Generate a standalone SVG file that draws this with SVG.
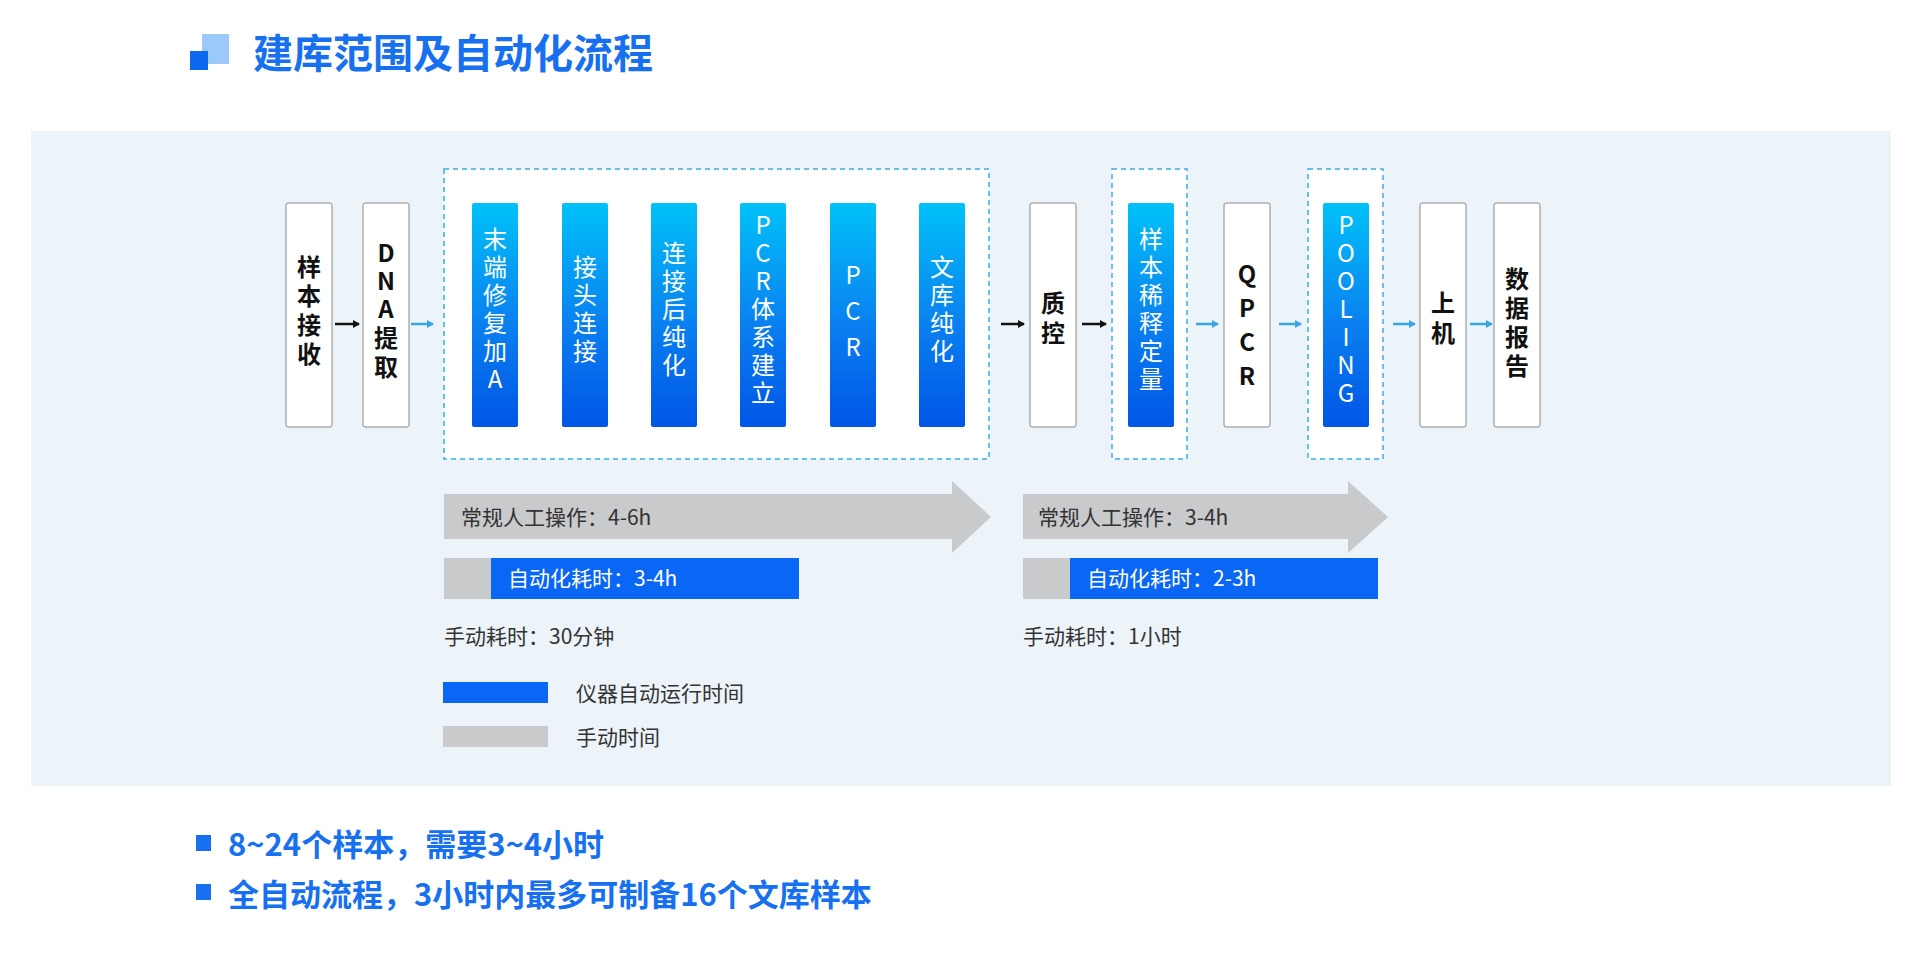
<svg xmlns="http://www.w3.org/2000/svg" width="1919" height="954" viewBox="0 0 1919 954">
<defs>
<linearGradient id="bg" x1="0" y1="0" x2="0" y2="1"><stop offset="0" stop-color="#00c2f8"/><stop offset="0.55" stop-color="#0a7ff0"/><stop offset="1" stop-color="#0055e6"/></linearGradient>
<marker id="ak" markerWidth="8" markerHeight="8" refX="6" refY="4" orient="auto" markerUnits="userSpaceOnUse"><path d="M0,0 L7,4 L0,8 Z" fill="#111"/></marker>
<marker id="ab" markerWidth="8" markerHeight="8" refX="6" refY="4" orient="auto" markerUnits="userSpaceOnUse"><path d="M0,0 L7,4 L0,8 Z" fill="#3aa6e0"/></marker>
</defs>
<style>
text{font-family:"Noto Sans CJK SC","Noto Sans",sans-serif}
.wb{fill:#fff;stroke:#888;stroke-width:1}
.bb{fill:url(#bg)}
.dash{fill:#fff;stroke:#3aaee6;stroke-width:1.5;stroke-dasharray:5 4}
.wt{font-size:24px;font-weight:bold;fill:#111;text-anchor:middle}
.bt{font-size:24px;fill:#fff;text-anchor:middle}
.k{stroke:#111;stroke-width:2.5;marker-end:url(#ak)}
.b{stroke:#3aa6e0;stroke-width:2.5;marker-end:url(#ab)}
.lbl{font-size:21px;fill:#333}
.lw{font-size:21px;fill:#fff}
.bul{font-size:31px;font-weight:bold;fill:#1670f0}
</style>
<g id="title">
<rect x="202" y="34" width="27" height="30" fill="#9cc8fa"/>
<rect x="190" y="51" width="18" height="19" fill="#0d68f0"/>
<text x="253" y="68" font-size="40" font-weight="bold" fill="#1670f0">建库范围及自动化流程</text>
</g>
<rect x="31" y="131" width="1860" height="655" fill="#ecf4fa"/>
<g id="groups">
<rect class="dash" x="444" y="169" width="545" height="290"/>
<rect class="dash" x="1112" y="169" width="75" height="290"/>
<rect class="dash" x="1308" y="169" width="75" height="290"/>
</g>
<g id="n1"><rect class="wb" x="286" y="203" width="46" height="224" rx="2"/><text class="wt"><tspan x="309" y="276">样</tspan><tspan x="309" y="305">本</tspan><tspan x="309" y="334">接</tspan><tspan x="309" y="363">收</tspan></text></g>
<g id="n2"><rect class="wb" x="363" y="203" width="46" height="224" rx="2"/><text class="wt"><tspan x="386" y="262">D</tspan><tspan x="386" y="290">N</tspan><tspan x="386" y="318">A</tspan><tspan x="386" y="347">提</tspan><tspan x="386" y="376">取</tspan></text></g>
<g id="n3"><rect class="bb" x="472" y="203" width="46" height="224" rx="2"/><text class="bt"><tspan x="495" y="248">末</tspan><tspan x="495" y="276">端</tspan><tspan x="495" y="304">修</tspan><tspan x="495" y="332">复</tspan><tspan x="495" y="360">加</tspan><tspan x="495" y="388">A</tspan></text></g>
<g id="n4"><rect class="bb" x="562" y="203" width="46" height="224" rx="2"/><text class="bt"><tspan x="585" y="276">接</tspan><tspan x="585" y="304">头</tspan><tspan x="585" y="332">连</tspan><tspan x="585" y="360">接</tspan></text></g>
<g id="n5"><rect class="bb" x="651" y="203" width="46" height="224" rx="2"/><text class="bt"><tspan x="674" y="262">连</tspan><tspan x="674" y="290">接</tspan><tspan x="674" y="318">后</tspan><tspan x="674" y="346">纯</tspan><tspan x="674" y="374">化</tspan></text></g>
<g id="n6"><rect class="bb" x="740" y="203" width="46" height="224" rx="2"/><text class="bt"><tspan x="763" y="234">P</tspan><tspan x="763" y="262">C</tspan><tspan x="763" y="290">R</tspan><tspan x="763" y="318">体</tspan><tspan x="763" y="346">系</tspan><tspan x="763" y="374">建</tspan><tspan x="763" y="402">立</tspan></text></g>
<g id="n7"><rect class="bb" x="830" y="203" width="46" height="224" rx="2"/><text class="bt"><tspan x="853" y="284">P</tspan><tspan x="853" y="320">C</tspan><tspan x="853" y="356">R</tspan></text></g>
<g id="n8"><rect class="bb" x="919" y="203" width="46" height="224" rx="2"/><text class="bt"><tspan x="942" y="276">文</tspan><tspan x="942" y="304">库</tspan><tspan x="942" y="332">纯</tspan><tspan x="942" y="360">化</tspan></text></g>
<g id="n9"><rect class="wb" x="1030" y="203" width="46" height="224" rx="2"/><text class="wt"><tspan x="1053" y="312">质</tspan><tspan x="1053" y="342">控</tspan></text></g>
<g id="n10"><rect class="bb" x="1128" y="203" width="46" height="224" rx="2"/><text class="bt"><tspan x="1151" y="248">样</tspan><tspan x="1151" y="276">本</tspan><tspan x="1151" y="304">稀</tspan><tspan x="1151" y="332">释</tspan><tspan x="1151" y="360">定</tspan><tspan x="1151" y="388">量</tspan></text></g>
<g id="n11"><rect class="wb" x="1224" y="203" width="46" height="224" rx="2"/><text class="wt"><tspan x="1247" y="283">Q</tspan><tspan x="1247" y="317">P</tspan><tspan x="1247" y="351">C</tspan><tspan x="1247" y="385">R</tspan></text></g>
<g id="n12"><rect class="bb" x="1323" y="203" width="46" height="224" rx="2"/><text class="bt"><tspan x="1346" y="234">P</tspan><tspan x="1346" y="262">O</tspan><tspan x="1346" y="290">O</tspan><tspan x="1346" y="318">L</tspan><tspan x="1346" y="346">I</tspan><tspan x="1346" y="374">N</tspan><tspan x="1346" y="402">G</tspan></text></g>
<g id="n13"><rect class="wb" x="1420" y="203" width="46" height="224" rx="2"/><text class="wt"><tspan x="1443" y="312">上</tspan><tspan x="1443" y="342">机</tspan></text></g>
<g id="n14"><rect class="wb" x="1494" y="203" width="46" height="224" rx="2"/><text class="wt"><tspan x="1517" y="288">数</tspan><tspan x="1517" y="317">据</tspan><tspan x="1517" y="346">报</tspan><tspan x="1517" y="375">告</tspan></text></g>
<g id="connectors">
<line class="k" x1="335" y1="324" x2="359" y2="324"/>
<line class="b" x1="411" y1="324" x2="433" y2="324"/>
<line class="k" x1="1001" y1="324" x2="1024" y2="324"/>
<line class="k" x1="1082" y1="324" x2="1106" y2="324"/>
<line class="b" x1="1196" y1="324" x2="1218" y2="324"/>
<line class="b" x1="1279" y1="324" x2="1301" y2="324"/>
<line class="b" x1="1393" y1="324" x2="1415" y2="324"/>
<line class="b" x1="1470" y1="324" x2="1492" y2="324"/>
</g>
<g id="timing">
<path d="M444,494 H952 V481 L991,517 L952,553 V539 H444 Z" fill="#c9cacb"/>
<text class="lbl" x="461" y="525">常规人工操作：4-6h</text>
<path d="M1023,494 H1348 V481 L1388,517 L1348,553 V539 H1023 Z" fill="#c9cacb"/>
<text class="lbl" x="1038" y="525">常规人工操作：3-4h</text>
<rect x="444" y="558" width="47" height="41" fill="#c9cacb"/>
<rect x="491" y="558" width="308" height="41" fill="#0a66f5"/>
<text class="lw" x="508" y="586">自动化耗时：3-4h</text>
<rect x="1023" y="558" width="47" height="41" fill="#c9cacb"/>
<rect x="1070" y="558" width="308" height="41" fill="#0a66f5"/>
<text class="lw" x="1087" y="586">自动化耗时：2-3h</text>
<text class="lbl" x="444" y="644" fill="#111">手动耗时：30分钟</text>
<text class="lbl" x="1023" y="644" fill="#111">手动耗时：1小时</text>
</g>
<g id="legend">
<rect x="443" y="682" width="105" height="21" fill="#0a66f5"/>
<text class="lbl" x="576" y="701">仪器自动运行时间</text>
<rect x="443" y="726" width="105" height="21" fill="#c9cacb"/>
<text class="lbl" x="576" y="745">手动时间</text>
</g>
<g id="notes">
<rect x="196" y="835" width="15" height="16" fill="#1670f0"/>
<text class="bul" x="228" y="856">8~24个样本，需要3~4小时</text>
<rect x="196" y="884" width="15" height="16" fill="#1670f0"/>
<text class="bul" x="228" y="906">全自动流程，3小时内最多可制备16个文库样本</text>
</g>
</svg>
